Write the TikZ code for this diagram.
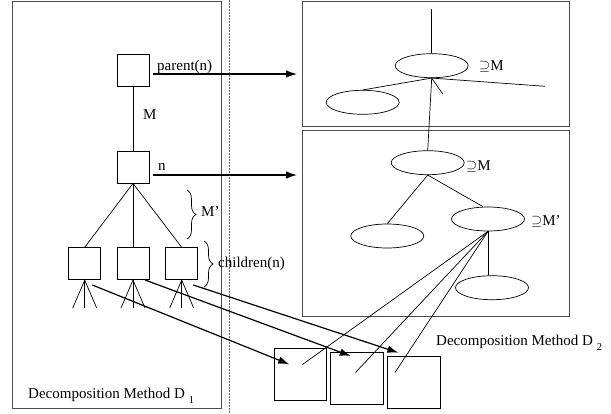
\documentclass[tikz,border=0pt]{standalone}
\usepackage{fontspec}
\setmainfont{Liberation Serif}
\usetikzlibrary{shapes.geometric,arrows.meta,decorations.pathreplacing,calc}
\begin{document}
\begin{tikzpicture}[x=1pt,y=-1pt,
  txt/.style={font=\fontsize{15}{17}\selectfont, inner sep=0pt, anchor=base west},
  frame/.style={draw=black!70, line width=1pt},
  sq/.style={draw, line width=0.8pt, minimum width=32pt, minimum height=32pt, inner sep=0pt},
  bigsq/.style={draw, line width=0.9pt, minimum width=52.5pt, minimum height=52pt, inner sep=0pt},
  ell/.style={draw, ellipse, line width=0.7pt, minimum width=73pt, minimum height=24pt, inner sep=0pt},
  ln/.style={line width=0.7pt},
  arr/.style={line width=1.2pt, -{Latex[length=11pt,width=7.5pt]}},
  brc/.style={line width=0.7pt, decorate, decoration={brace, amplitude=9pt}}
]
\useasboundingbox (0,0) rectangle (611,413);

% frames
\draw[frame] (12.3,1.7) rectangle (221.7,408.5);
\draw[black!60, line width=0.8pt, dash pattern=on 1.5pt off 1.5pt] (229.7,0) -- (229.7,413);
\draw[frame] (302.7,1.7) rectangle (569,126.7);
\draw[frame] (302.7,130) rectangle (569,316.7);

% left tree
\node[sq] (par) at (133,70) {};
\node[sq] (nn) at (133,167) {};
\node[sq] (c1) at (84.7,263.7) {};
\node[sq] (c2) at (133,263.7) {};
\node[sq] (c3) at (181.7,263.7) {};
\draw[ln] (par.south) -- (nn.north);
\draw[ln] (nn.south) -- (c1.north);
\draw[ln] (nn.south) -- (c2.north);
\draw[ln] (nn.south) -- (c3.north);
\foreach \c in {c1,c2,c3}{
  \draw[ln] (\c.south) -- ++(-12,28);
  \draw[ln] (\c.south) -- ++(0,28);
  \draw[ln] (\c.south) -- ++(12,28);
}
\node[txt] (lM) at (143,119) {M};
\node[txt] (lpar) at (157,70) {parent(n)};
\node[txt] (ln) at (158,170.5) {n};
\draw[brc] (187,190) -- (187,239);
\node[txt] (lMp) at (201,216.5) {M'};
\draw[brc] (204,241) -- (204,287);
\node[txt] (lch) at (218,267.5) {children(n)};
\node[txt] (lD1) at (28,398) {Decomposition Method D\hspace{4pt}\raisebox{-5pt}{\fontsize{10.5}{10}\selectfont 1}};

% right trees
\node[ell] (e1) at (431.7,65.7) {};
\node[ell] (e2) at (362.7,102.3) {};
\node[ell] (e3) at (427.7,162.7) {};
\node[ell] (e4) at (387.3,236) {};
\node[ell] (e5) at (488,219) {};
\node[ell] (e6) at (492,287.7) {};
\coordinate (top) at (431.7,9.3);
\coordinate (rgt) at (545,86.3);
\coordinate (barb) at (443,94.3);
\draw[ln] (top) -- (e1.north);
\draw[ln] (e1.south) -- (e2.north);
\draw[ln] (e1.south) -- (rgt);
\draw[ln] (e3.north) -- (e1.south) -- (barb);
\draw[ln] (e3.south) -- (e4.north);
\draw[ln] (e3.south) -- ([xshift=-5pt]e5.north);
\draw[ln] (e5.south) -- (e5.south |- e6.north);
\node[txt] (s1) at (479,70) {$\supseteq$M};
\node[txt] (s2) at (466,170.5) {$\supseteq$M};
\node[txt] (s3) at (531,225) {$\supseteq$M'};
\node[txt] (lD2) at (436,345) {Decomposition Method D\hspace{4pt}\raisebox{-5pt}{\fontsize{10.5}{10}\selectfont 2}};

% bottom boxes
\node[bigsq] (ba) at (300.5,374.5) {};
\node[bigsq] (bb) at (357,378.3) {};
\node[bigsq] (bc) at (413.7,382.5) {};
\coordinate (qa) at (302.5,364.5);
\coordinate (qb) at (355.5,372.5);
\coordinate (qc) at (395,372.5);
\draw[ln] (e5.south) -- (qa);
\draw[ln] (e5.south) -- (qb);
\draw[ln] (e5.south) -- (qc);

% arrows
\coordinate (pa) at (297,74);
\coordinate (pn) at (297,175);
\draw[arr] (152.7,74) -- (pa);
\draw[arr] (152.7,175) -- (pn);
\coordinate (s1a) at (92.3,285);
\coordinate (s2a) at (145,280);
\coordinate (s3a) at (193.3,285);
\coordinate (ta) at (289.3,364.3);
\coordinate (tb) at (350.7,356);
\coordinate (tc) at (398.3,352.7);
\draw[arr] (s1a) -- (ta);
\draw[arr] (s2a) -- (tb);
\draw[arr] (s3a) -- (tc);
\end{tikzpicture}
\end{document}
